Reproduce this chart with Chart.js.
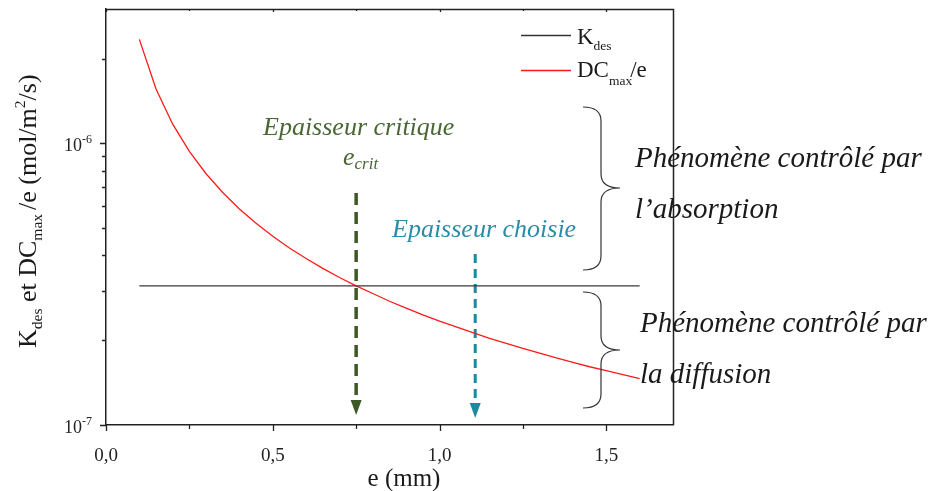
<!DOCTYPE html>
<html>
<head>
<meta charset="utf-8">
<script src="https://cdn.jsdelivr.net/npm/chart.js@4/dist/chart.umd.min.js"></script>
<style>
  html, body { margin: 0; padding: 0; background: #ffffff; }
  #wrap { width: 939px; height: 491px; position: relative; }
</style>
</head>
<body>
<div id="wrap"><canvas id="c" width="939" height="491"></canvas></div>
<script>
// ---- data ----
const eValues = [0.10,0.15,0.20,0.25,0.30,0.35,0.40,0.45,0.50,0.55,0.60,0.65,0.70,0.75,0.80,0.85,0.90,0.95,1.00,1.05,1.10,1.15,1.20,1.25,1.30,1.35,1.40,1.45,1.50,1.55,1.60];
const dcValues = [2.34e-6,1.56e-6,1.17e-6,9.36e-7,7.80e-7,6.69e-7,5.85e-7,5.20e-7,4.68e-7,4.25e-7,3.90e-7,3.60e-7,3.34e-7,3.12e-7,2.93e-7,2.75e-7,2.60e-7,2.46e-7,2.34e-7,2.23e-7,2.13e-7,2.03e-7,1.95e-7,1.87e-7,1.80e-7,1.73e-7,1.67e-7,1.61e-7,1.56e-7,1.51e-7,1.46e-7];
const kdesE = [0.10, 1.60];
const kdesValues = [3.12e-7, 3.12e-7];

// arrows: critical thickness and chosen thickness
const arrowX = [0.75, 1.107];
const arrowTop = [6.66e-7, 4.05e-7];
const arrowBase = [1.227e-7, 1.197e-7];
const arrowTip = [1.085e-7, 1.059e-7];

// ticks
const xMajorTicks = [0, 0.5, 1.0, 1.5];
const xTickLabels = ['0,0', '0,5', '1,0', '1,5'];
const xMinorTicks = [0.25, 0.75, 1.25];
const yMajorTicks = [1e-7, 1e-6];
const yTickBase = ['10', '10'];
const yTickExp = ['-7', '-6'];
const yMinorTicks = [2e-7,3e-7,4e-7,5e-7,6e-7,7e-7,8e-7,9e-7,2e-6];

const SERIF = '"Liberation Serif", "DejaVu Serif", serif';
const GREEN = '#3d5824';
const GREEN_TXT = '#4a6634';
const TEAL = '#1d88a2';
const TEAL_TXT = '#2a8ca6';
const AXIS = '#222222';

function rich(ctx, x, y, parts) {
  let cx = x;
  for (const p of parts) {
    ctx.font = p.font;
    if (p.dx) cx += p.dx;
    ctx.fillText(p.t, cx, y + (p.dy || 0));
    cx += ctx.measureText(p.t).width;
  }
}

const decorPlugin = {
  id: 'decor',
  afterDatasetsDraw(chart) {
    const ctx = chart.ctx;
    const xs = chart.scales.x, ys = chart.scales.y;
    ctx.save();
    // arrowheads
    const cols = [GREEN, TEAL];
    for (let i = 0; i < arrowX.length; i++) {
      const px = xs.getPixelForValue(arrowX[i]);
      const pb = ys.getPixelForValue(arrowBase[i]);
      const pt = ys.getPixelForValue(arrowTip[i]);
      ctx.fillStyle = cols[i];
      ctx.beginPath();
      ctx.moveTo(px - 5.5, pb);
      ctx.lineTo(px + 5.5, pb);
      ctx.lineTo(px, pt);
      ctx.closePath();
      ctx.fill();
    }
    ctx.restore();
  },
  afterDraw(chart) {
    const ctx = chart.ctx;
    const xs = chart.scales.x, ys = chart.scales.y;
    const a = chart.chartArea;
    ctx.save();
    // frame top & right
    ctx.strokeStyle = AXIS;
    ctx.lineWidth = 1.5;
    ctx.beginPath();
    ctx.moveTo(a.left, a.top + 0.5);
    ctx.lineTo(a.right + 0.5, a.top + 0.5);
    ctx.lineTo(a.right + 0.5, a.bottom);
    ctx.stroke();

    // tick marks
    ctx.lineWidth = 1.3;
    ctx.beginPath();
    xMajorTicks.forEach(v => { const p = Math.round(xs.getPixelForValue(v)) + 0.5; ctx.moveTo(p, a.bottom); ctx.lineTo(p, a.bottom + 6); ctx.moveTo(p, a.top); ctx.lineTo(p, a.top + 3); });
    xMinorTicks.forEach(v => { const p = Math.round(xs.getPixelForValue(v)) + 0.5; ctx.moveTo(p, a.bottom); ctx.lineTo(p, a.bottom + 4); ctx.moveTo(p, a.top); ctx.lineTo(p, a.top + 2); });
    yMajorTicks.forEach(v => { const p = Math.round(ys.getPixelForValue(v)) + 0.5; ctx.moveTo(a.left, p); ctx.lineTo(a.left - 6, p); });
    yMinorTicks.forEach(v => { const p = Math.round(ys.getPixelForValue(v)) + 0.5; ctx.moveTo(a.left, p); ctx.lineTo(a.left - 4, p); });
    ctx.stroke();

    // x tick labels
    ctx.fillStyle = '#222';
    ctx.font = '19px ' + SERIF;
    ctx.textAlign = 'center';
    ctx.textBaseline = 'alphabetic';
    xMajorTicks.forEach((v, i) => ctx.fillText(xTickLabels[i], xs.getPixelForValue(v), a.bottom + 36));

    // y tick labels with exponent
    yMajorTicks.forEach((v, i) => {
      const p = ys.getPixelForValue(v);
      ctx.font = '12px ' + SERIF;
      ctx.textAlign = 'right';
      const ew = ctx.measureText(yTickExp[i]).width;
      ctx.fillText(yTickExp[i], a.left - 14, p + 0);
      ctx.font = '18px ' + SERIF;
      ctx.fillText(yTickBase[i], a.left - 14 - ew, p + 8);
    });

    // axis titles
    ctx.textAlign = 'left';
    ctx.fillStyle = '#1a1a1a';
    ctx.font = '25px ' + SERIF;
    const xw = ctx.measureText('e (mm)').width;
    ctx.fillText('e (mm)', 404 - xw / 2, 486);

    ctx.save();
    ctx.translate(36, 348);
    ctx.rotate(-Math.PI / 2);
    const big = '26px ' + SERIF, sub = '15.5px ' + SERIF;
    rich(ctx, 0, 0, [
      { t: 'K', font: big },
      { t: 'des', font: sub, dy: 6 },
      { t: ' et DC', font: big },
      { t: 'max', font: sub, dy: 6 },
      { t: '/e (mol/m', font: big, dx: 4 },
      { t: '2', font: sub, dy: -11 },
      { t: '/s)', font: big }
    ]);
    ctx.restore();

    // legend
    ctx.lineWidth = 1.3;
    ctx.strokeStyle = '#333';
    ctx.beginPath(); ctx.moveTo(521, 35.5); ctx.lineTo(571, 35.5); ctx.stroke();
    ctx.strokeStyle = '#ff1a1a';
    ctx.beginPath(); ctx.moveTo(521, 70.5); ctx.lineTo(571, 70.5); ctx.stroke();
    ctx.fillStyle = '#1a1a1a';
    const lg = '23px ' + SERIF, ls = '13.5px ' + SERIF;
    rich(ctx, 577, 44, [{ t: 'K', font: lg }, { t: 'des', font: ls, dy: 6 }]);
    rich(ctx, 577, 77, [{ t: 'DC', font: lg }, { t: 'max', font: ls, dy: 8 }, { t: '/e', font: lg, dx: -2 }]);

    // annotations
    const it = 'italic 26px ' + SERIF;
    ctx.font = it;
    ctx.fillStyle = GREEN_TXT;
    ctx.fillText('Epaisseur critique', 263, 135);
    rich(ctx, 343, 165, [{ t: 'e', font: it }, { t: 'crit', font: 'italic 17px ' + SERIF, dy: 4 }]);
    ctx.fillStyle = TEAL_TXT;
    ctx.font = it;
    ctx.fillText('Epaisseur choisie', 392, 237);

    ctx.fillStyle = '#1a1a1a';
    ctx.font = 'italic 29px ' + SERIF;
    ctx.fillText('Phénomène contrôlé par', 635, 167);
    ctx.fillText('l\u2019absorption', 635, 218);
    ctx.fillText('Phénomène contrôlé par', 640, 332);
    ctx.fillText('la diffusion', 640, 383);

    // braces
    function brace(top, mid, bot) {
      const xe = 583, xv = 601, xt = 620, r = 14;
      ctx.beginPath();
      ctx.moveTo(xe, top);
      ctx.quadraticCurveTo(xv, top, xv, top + r);
      ctx.lineTo(xv, mid - r);
      ctx.quadraticCurveTo(xv, mid, xt, mid);
      ctx.quadraticCurveTo(xv, mid, xv, mid + r);
      ctx.lineTo(xv, bot - r);
      ctx.quadraticCurveTo(xv, bot, xe, bot);
      ctx.stroke();
    }
    ctx.strokeStyle = '#333';
    ctx.lineWidth = 1.2;
    brace(107, 188, 270);
    brace(292, 350, 408);
    ctx.restore();
  }
};

const curve = eValues.map((e, i) => ({ x: e, y: dcValues[i] }));
const kdes = kdesE.map((e, i) => ({ x: e, y: kdesValues[i] }));
const arrowData = arrowX.map((x, i) => [{ x: x, y: arrowTop[i] }, { x: x, y: arrowBase[i] }]);

new Chart(document.getElementById('c'), {
  type: 'line',
  data: {
    datasets: [
      { label: 'Kdes', data: kdes, borderColor: '#3a3a3a', borderWidth: 1.3, pointRadius: 0, fill: false, tension: 0 },
      { label: 'DCmax/e', data: curve, borderColor: '#ff1a1a', borderWidth: 1.3, pointRadius: 0, fill: false, tension: 0 },
      { label: 'ecrit', data: arrowData[0], borderColor: GREEN, borderWidth: 3.5, borderDash: [12, 7], pointRadius: 0, fill: false },
      { label: 'choisie', data: arrowData[1], borderColor: TEAL, borderWidth: 3, borderDash: [9, 6], pointRadius: 0, fill: false }
    ]
  },
  options: {
    responsive: false,
    animation: false,
    devicePixelRatio: 1,
    layout: { padding: { left: 106, top: 9, right: 266, bottom: 66 } },
    plugins: { legend: { display: false }, tooltip: { enabled: false } },
    scales: {
      x: {
        type: 'linear', min: 0, max: 1.7,
        grid: { display: false, drawTicks: false },
        ticks: { display: false },
        border: { display: true, color: AXIS, width: 1.5 }
      },
      y: {
        type: 'logarithmic', min: 1e-7, max: 3e-6,
        grid: { display: false, drawTicks: false },
        ticks: { display: false },
        border: { display: true, color: AXIS, width: 1.5 }
      }
    }
  },
  plugins: [decorPlugin]
});
</script>
</body>
</html>
